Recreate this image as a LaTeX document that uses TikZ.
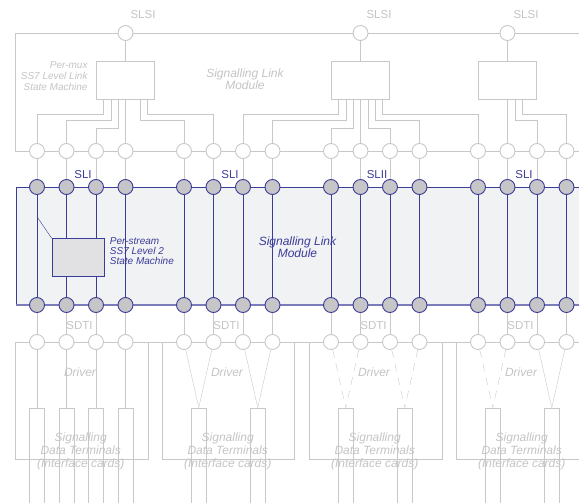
\documentclass[tikz,border=0pt]{standalone}
\usepackage{fontspec}
\setmainfont{Liberation Sans}
\usetikzlibrary{calc}
\definecolor{lg}{HTML}{C8C8C8}
\definecolor{tg}{HTML}{C4C4C4}
\definecolor{bl}{HTML}{3B3B98}
\definecolor{lbl}{HTML}{7C7CBC}
\definecolor{cf}{HTML}{C6C6C8}
\definecolor{bf}{HTML}{F1F2F4}
\definecolor{pf}{HTML}{E1E1E3}
\pgfdeclarelayer{back}
\pgfdeclarelayer{bg}
\pgfsetlayers{back,bg,main}
\begin{document}
\begin{tikzpicture}[x=1pt,y=-1pt,line width=0.9pt,
  wcirc/.style={circle,draw=lg,fill=white,minimum size=15pt,inner sep=0pt},
  gcirc/.style={circle,draw=bl,fill=cf,minimum size=15pt,inner sep=0pt},
  gline/.style={draw=lg},
  bline/.style={draw=bl},
  dline/.style={draw=lg,dash pattern=on 8pt off 6pt},
  mbox/.style={draw=lg,fill=white,minimum width=58.5pt,minimum height=37.3pt,inner sep=0pt},
  sdt/.style={draw=lg,minimum width=15pt,minimum height=110pt,inner sep=0pt,anchor=north},
  glabel/.style={text=tg,inner sep=0pt,font=\fontsize{11.5}{12}\selectfont},
  blabel/.style={text=bl,inner sep=0pt,font=\fontsize{11.5}{12}\selectfont},
  gital/.style={text=tg,inner sep=0pt,font=\fontsize{12}{13}\selectfont\itshape},
]
\useasboundingbox (0,0) rectangle (579,503);

% top SLSI circles and boxes
\node[wcirc] (s1) at (125.5,33) {};
\node[wcirc] (s2) at (360.5,33) {};
\node[wcirc] (s3) at (507.5,33) {};
\node[glabel] (ls1) at (143,15) {SLSI};
\node[glabel] (ls2) at (379,15) {SLSI};
\node[glabel] (ls3) at (526,15) {SLSI};
\node[mbox] (m1) at (125.5,80.6) {};
\node[mbox] (m2) at (360.5,80.6) {};
\node[mbox] (m3) at (507.5,80.6) {};

% circles per column
\foreach \g in {0,...,3}{
  \foreach \k in {0,...,3}{
    \pgfmathsetmacro\xx{37+147*\g+29.5*\k}
    \pgfmathtruncatemacro\i{4*\g+\k+1}
    \node[wcirc] (t\i) at (\xx,151) {};
    \node[gcirc] (g\i) at (\xx,187) {};
    \node[gcirc] (h\i) at (\xx,305) {};
    \node[wcirc] (b\i) at (\xx,342) {};
  }
}

% signalling data terminal cards
\node[sdt] (r1) at (37,407.7) {};
\node[sdt] (r2) at (66.5,407.7) {};
\node[sdt] (r3) at (96,407.7) {};
\node[sdt] (r4) at (125.5,407.7) {};
\node[sdt] (r5) at (198.75,407.7) {};
\node[sdt] (r6) at (257.75,407.7) {};
\node[sdt] (r7) at (345.75,407.7) {};
\node[sdt] (r8) at (404.75,407.7) {};
\node[sdt] (r9) at (492.75,407.7) {};
\node[sdt] (r10) at (551.75,407.7) {};

% per-stream state machine
\node[draw=bl,fill=pf,minimum width=52pt,minimum height=37.4pt,inner sep=0pt,anchor=north west] (ps) at (51.7,238.3) {};
\coordinate (d1) at (37,216.7);

% texts
\node[text=tg,inner sep=0pt,align=right,anchor=east,font=\fontsize{10}{10.8}\selectfont\itshape] (pmux) at (88,76) {Per-mux\\SS7 Level Link\\State Machine};
\node[text=tg,inner sep=0pt,align=center,font=\fontsize{12}{12.3}\selectfont\itshape] (slm1) at (245,79) {Signalling Link\\Module};
\node[text=bl,inner sep=0pt,align=left,anchor=west,font=\fontsize{10}{9.9}\selectfont\itshape] (pst) at (109.5,251.3) {Per-stream\\SS7 Level 2\\State Machine};
\node[text=bl,inner sep=0pt,align=center,font=\fontsize{12}{11.5}\selectfont\itshape] (slm2) at (297.5,247) {Signalling Link\\Module};
\node[blabel] (sli1) at (83,174.3) {SLI};
\node[blabel] (sli2) at (230,174.3) {SLI};
\node[blabel] (sli3) at (377,174.3) {SLII};
\node[blabel] (sli4) at (524,174.3) {SLI};
\node[glabel] (sd1) at (79.5,325.8) {SDTI};
\node[glabel] (sd2) at (226.5,325.8) {SDTI};
\node[glabel] (sd3) at (373.5,325.8) {SDTI};
\node[glabel] (sd4) at (520.5,325.8) {SDTI};
\foreach \g in {0,...,3}{
  \node[gital] (drv\g) at (80+147*\g,372.7) {Driver};
  \node[gital,align=center] (sdtt\g) at (80.7+147*\g,451.5) {Signalling\\Data Terminals\\(Interface cards)};
}

% background block
\begin{pgfonlayer}{back}
  \fill[bf] (15.7,187) rectangle (600,305);
  \draw[bline] (600,187) -- (15.7,187) -- (15.7,305);
  \draw[draw=lbl,line width=1.2pt] (15.7,305) -- (600,305);
\end{pgfonlayer}

\begin{pgfonlayer}{bg}
  \draw[gline] (15,151) -- (15,33) -- (600,33);
  \draw[gline] (15,151) -- (600,151);
  \draw[gline] (s1) -- (m1);
  \draw[gline] (s2) -- (m2);
  \draw[gline] (s3) -- (m3);
  \draw[gline] (m1.south) -- (t4);
  \draw[gline] (m2.south) -- (t10);
  \draw[gline] (m3.south) -- (t14);
  \foreach \b/\o/\yy/\t in {m1/-21.9/114/t1, m1/-14.6/120.7/t2, m1/-7.3/128.3/t3,
      m1/14.6/120.7/t5, m1/21.9/114/t6,
      m2/-21.9/114/t7, m2/-14.6/120.7/t8, m2/-7.3/128.3/t9,
      m2/7.3/128.3/t11, m2/14.6/120.7/t12, m2/21.9/114/t13,
      m3/7.3/120.7/t15, m3/14.6/114/t16}{
    \draw[gline] ($(\b.south)+(\o,0)$) |- (\t |- 0,\yy) -- (\t);
  }
  \foreach \i in {1,...,16}{
    \draw[gline] (t\i) -- (g\i);
    \draw[bline] (g\i) -- (h\i);
    \draw[gline] (h\i) -- (b\i);
  }
  \draw[bline] (d1) -- (ps.north west);
  % driver boxes
  \draw[gline] (15.3,342) rectangle (147.7,458.7);
  \draw[gline] (162.3,342) rectangle (294.3,458.7);
  \draw[gline] (309.3,342) rectangle (441.7,458.7);
  \draw[gline] (456,342) rectangle (600,458.7);
  \draw[gline] (15.3,342) -- (600,342);
  % driver connections
  \draw[gline] (b1) -- (r1.north);
  \draw[gline] (b2) -- (r2.north);
  \draw[gline] (b3) -- (r3.north);
  \draw[gline] (b4) -- (r4.north);
  \draw[gline] (b5) -- (r5.north);
  \draw[gline] (b6) -- (r5.north);
  \draw[gline] (b7) -- (r6.north);
  \draw[gline] (b8) -- (r6.north);
  \draw[dline] (b9) -- (r7.north);
  \draw[dline] (b10) -- (r7.north);
  \draw[dline] (b11) -- (r8.north);
  \draw[dline] (b12) -- (r8.north);
  \draw[dline] (b13) -- (r9.north);
  \draw[dline] (b14) -- (r9.north);
  \draw[gline] (b15) -- (r10.north);
  \draw[gline] (b16) -- (r10.north);
\end{pgfonlayer}
\end{tikzpicture}
\end{document}
